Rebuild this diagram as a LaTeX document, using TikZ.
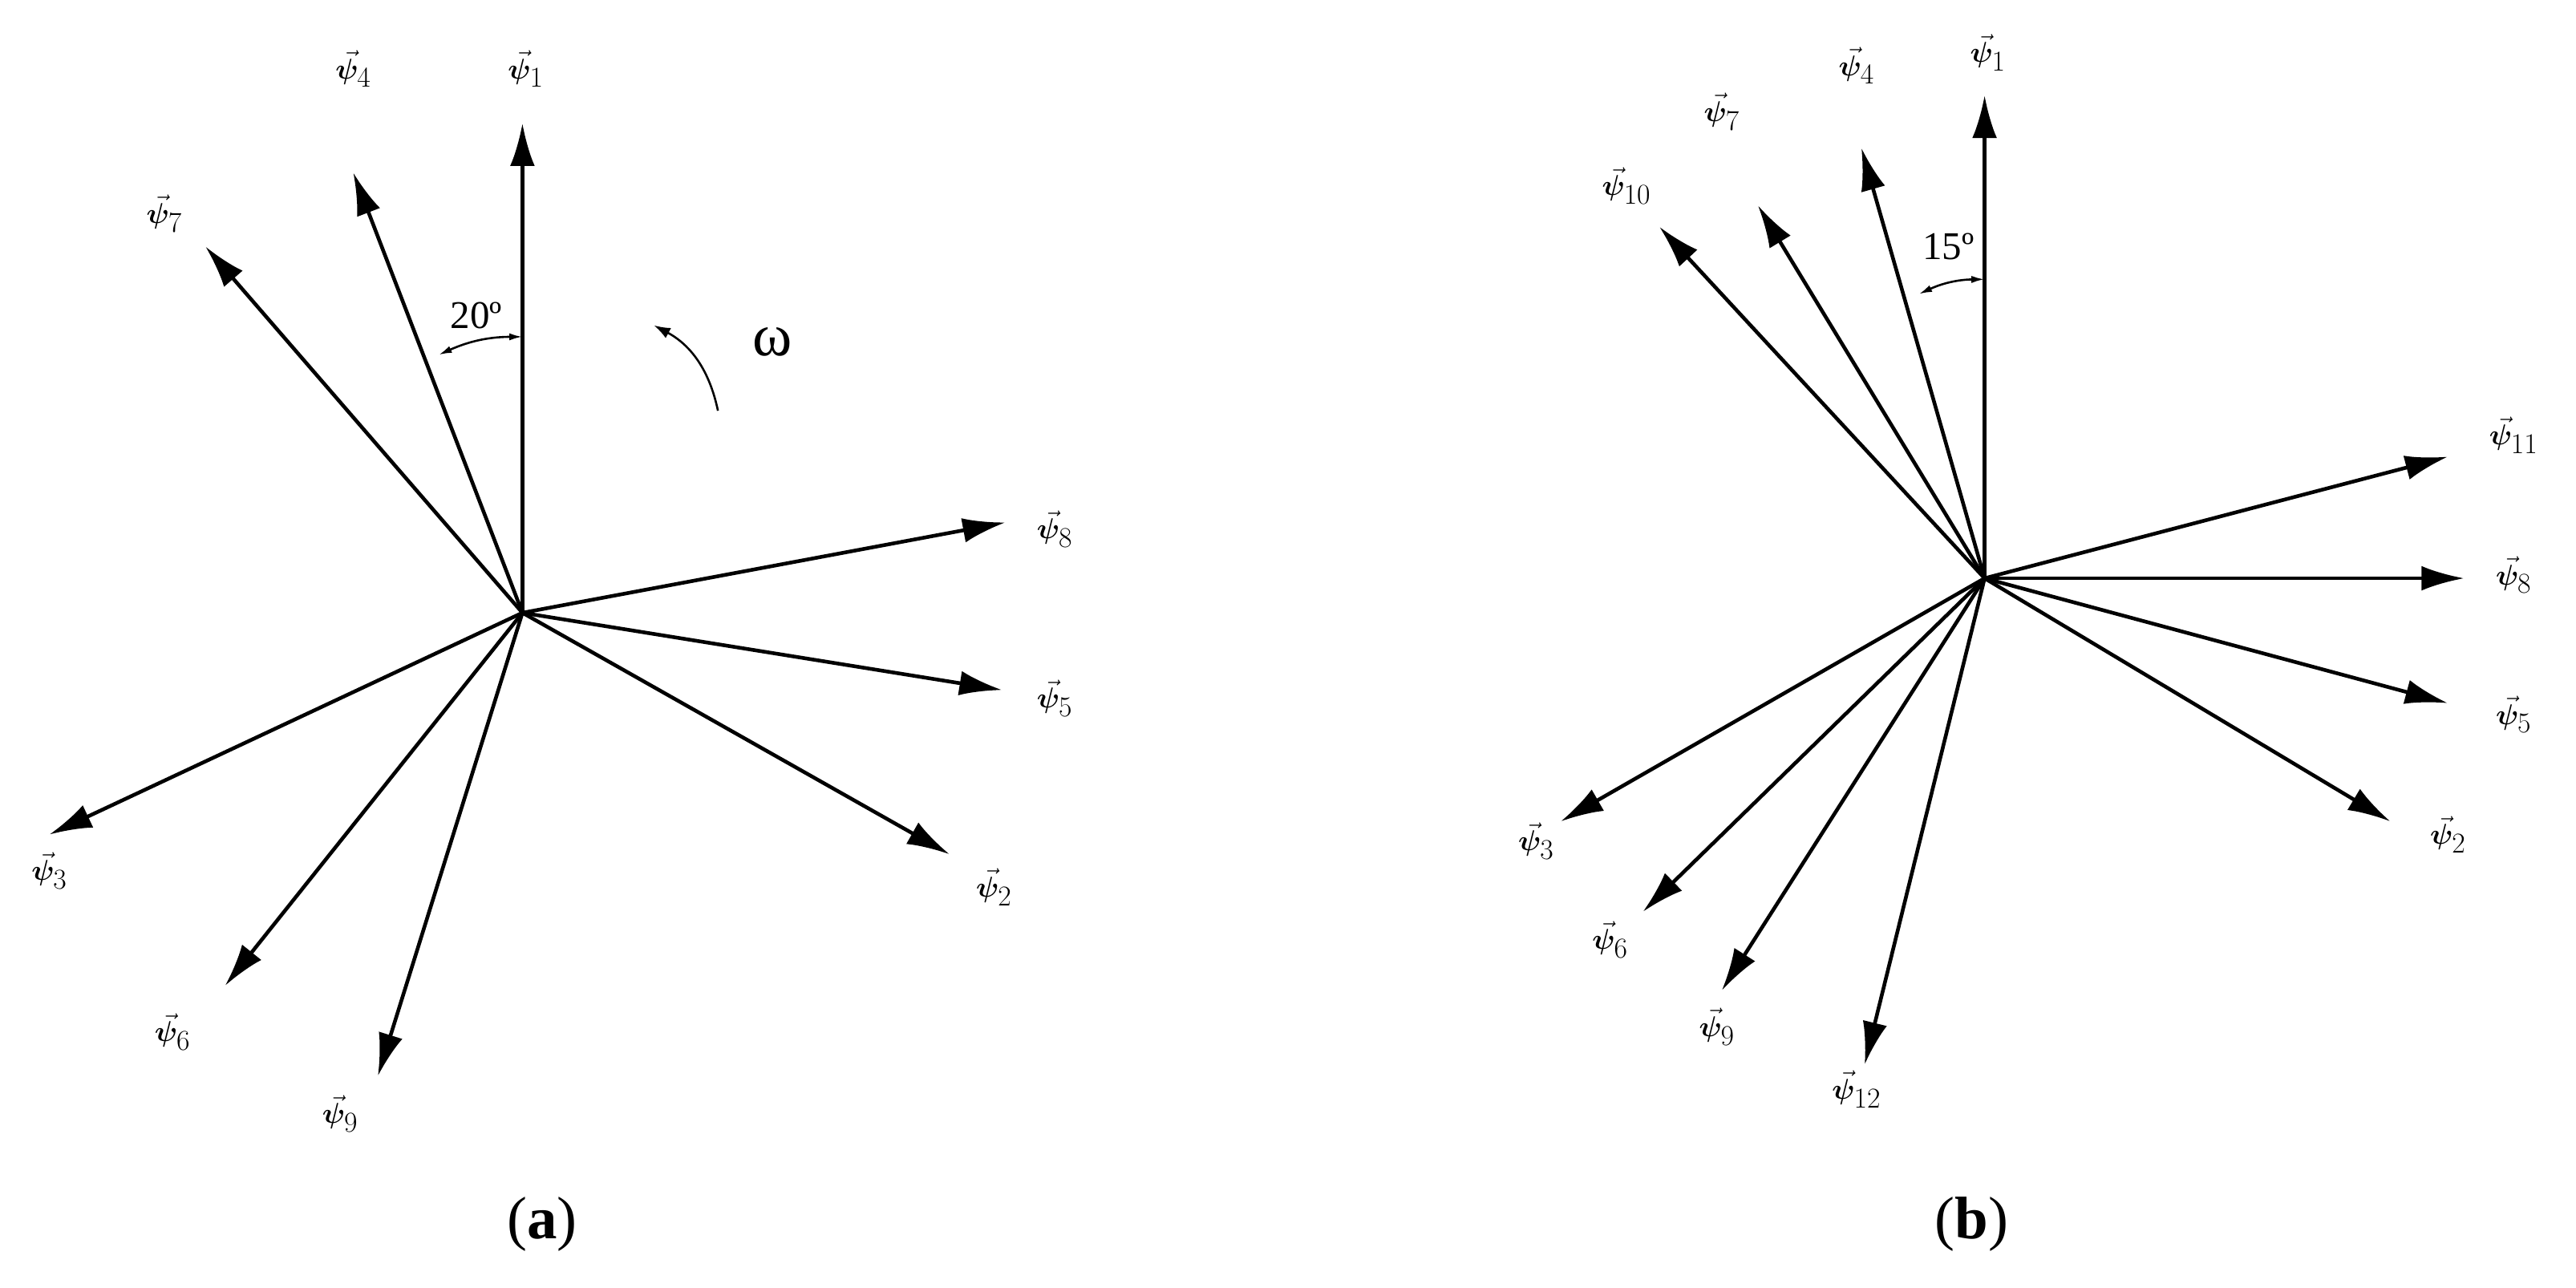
\documentclass[tikz,border=0pt]{standalone}
\usepackage{bm}
\usepackage{fontspec}
\setmainfont{Liberation Serif}
\usetikzlibrary{arrows.meta}
\begin{document}
\begin{tikzpicture}[x=0.05cm,y=-0.05cm,
  vec/.style={line width=3.2pt,-{Latex[length=1.3cm,width=0.75cm]}},
  lab/.style={font=\fontsize{52}{56}\selectfont,inner sep=0pt},
  ang/.style={line width=1.8pt,{Latex[length=0.4cm,width=0.22cm]}-{Latex[length=0.4cm,width=0.22cm]}},
  small/.style={font=\fontsize{34}{38}\selectfont,inner sep=0pt}]
\useasboundingbox (0,0) rectangle (1568,784);
% (a)
\coordinate (O) at (318,373);
\foreach \n/\x/\y/\lx/\ly in {1/318/75/320/42, 4/215/105/215/42, 7/125/150/100/130, 8/612/318/642/322, 5/610/420/642/425, 2/578/520/605/540, 3/30/508/30/530, 6/137/600/105/628, 9/230/655/207/678}{
  \coordinate (a\n) at (\x,\y);
  \draw[vec] (O) -- (a\n);
  \node[lab] (la\n) at (\lx,\ly) {$\vec{\bm{\psi}}_{\n}$};
}
\coordinate (aa1) at (318,205); \coordinate (aa2) at (267,216);
\draw[ang] (aa2) to[bend left=12] (aa1);
\node[small] (t20) at (290,192) {20º};
\coordinate (w1) at (437,250); \coordinate (w2) at (398,198);
\draw[line width=1.8pt,-{Latex[length=0.5cm,width=0.35cm]}] (w1) to[bend right=25] (w2);
\node[lab] (om) at (470,208) {ω};
\node[lab] (capa) at (330,745) {(\textbf{a})};
% (b)
\coordinate (P) at (1208,352);
\foreach \n/\x/\y/\lx/\ly in {1/1208/58/1210/32, 4/1133/90/1130/40, 7/1070/125/1048/68, 10/1010/138/990/113, 11/1490/278/1530/265, 8/1500/352/1530/350, 5/1490/428/1530/435, 2/1455/500/1490/508, 3/950/500/935/512, 6/1000/555/980/572, 9/1048/603/1045/625, 12/1135/648/1130/663}{
  \coordinate (b\n) at (\x,\y);
  \draw[vec] (P) -- (b\n);
  \node[lab] (lb\n) at (\lx,\ly) {$\vec{\bm{\psi}}_{\n}$};
}
\coordinate (ba1) at (1208,170); \coordinate (ba2) at (1168,179);
\draw[ang] (ba2) to[bend left=12] (ba1);
\node[small] (t15) at (1186,150) {15º};
\node[lab] (capb) at (1200,745) {(\textbf{b})};
\end{tikzpicture}
\end{document}
